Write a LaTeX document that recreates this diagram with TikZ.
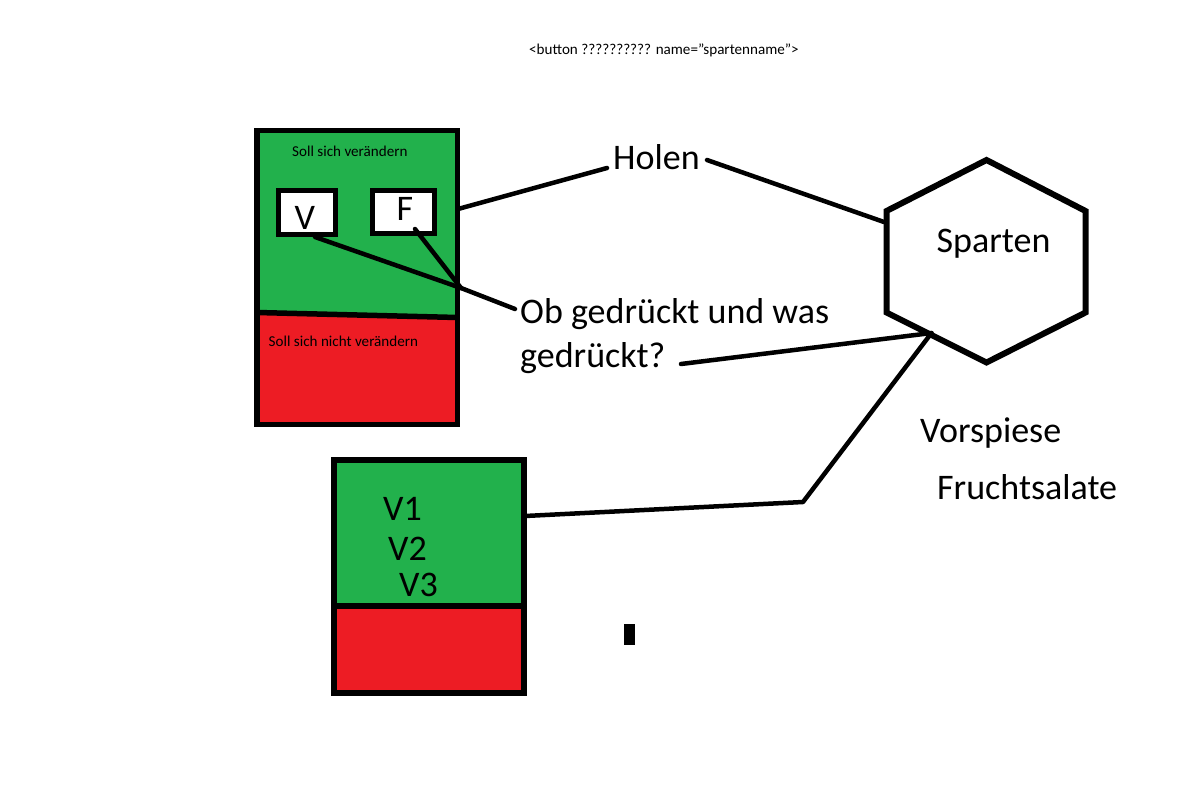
\documentclass[tikz,border=0pt]{standalone}
\usepackage{fontspec}
\setmainfont{Carlito}
\definecolor{pgreen}{HTML}{22B14C}
\definecolor{pred}{HTML}{ED1C24}
\begin{document}
\begin{tikzpicture}[x=1pt,y=-1pt,
  big/.style={inner sep=0pt,anchor=base west,font=\fontsize{36}{42}\selectfont},
  small/.style={inner sep=0pt,anchor=base west,font=\fontsize{15.1}{18}\selectfont},
  frame/.style={draw=black,line width=5.5pt},
  conn/.style={draw=black,line width=4.5pt,line cap=round,line join=round},
  whitebox/.style={draw=black,fill=white,line width=5pt}]
\useasboundingbox (0,0) rectangle (1182,784);
\fill[white] (0,0) rectangle (1182,784);

% top text
\node[small] (btn) at (529,55) {<button ?????????? name=\char"22 spartenname\char"22>};

% box 1
\fill[pgreen] (257,130.5) -- (457.5,130.5) -- (457.5,317.5) -- (257,312.5) -- cycle;
\fill[pred] (257,312.5) -- (457.5,317.5) -- (457.5,424.5) -- (257,424.5) -- cycle;
\draw[frame] (257,312.5) -- (457.5,317.5);
\draw[frame] (257,130.5) rectangle (457.5,424.5);
\node[small] (soll) at (292,156) {Soll sich verändern};
\node[small] (sollnicht) at (268.5,346) {Soll sich nicht verändern};
\draw[whitebox] (278,190.5) rectangle (335,234.5);
\draw[whitebox] (372.5,190.5) rectangle (434.5,233.5);
\node[big] (V) at (294.5,229) {V};
\node[big] (F) at (396.5,220) {F};

% box 2
\fill[pgreen] (334,460) rectangle (524,606);
\fill[pred] (334,606) rectangle (524,693);
\draw[frame] (334,606) -- (524,606);
\draw[frame] (334,460) rectangle (524,693);
\node[big] (V1) at (383,520) {V1};
\node[big] (V2) at (388,560) {V2};
\node[big] (V3) at (399,596) {V3};

% hexagon
\coordinate (hT) at (986.5,160);
\coordinate (hUR) at (1085.5,211);
\coordinate (hLR) at (1085.5,312.5);
\coordinate (hB) at (986.5,362.5);
\coordinate (hLL) at (886.5,312.5);
\coordinate (hUL) at (886.5,211);
\draw[line width=6pt,line join=miter] (hT) -- (hUR) -- (hLR) -- (hB) -- (hLL) -- (hUL) -- cycle;
\node[big] (sparten) at (936.5,252) {Sparten};

% labels
\node[big] (holen) at (613,169) {Holen};
\node[big] (ob) at (520,323) {Ob gedrückt und was};
\node[big] (ged) at (520,367) {gedrückt?};
\node[big] (vor) at (920,442) {Vorspiese};
\node[big] (frucht) at (937,499) {Fruchtsalate};

% small black mark
\fill[black] (624,624) rectangle (634.5,645);

% connector points
\coordinate (b1r) at (458,209);
\coordinate (holenL) at (607,168);
\coordinate (holenR) at (707,160);
\coordinate (hexL) at (884,222);
\coordinate (vB) at (315,237);
\coordinate (fB) at (415,229);
\coordinate (meet) at (461,288);
\coordinate (obL) at (515,309);
\coordinate (gedR) at (681,364);
\coordinate (hexP) at (931.5,333);
\coordinate (bend) at (803,502);
\coordinate (b2r) at (525,516);

\draw[conn] (b1r) -- (holenL);
\draw[conn] (holenR) -- (hexL);
\draw[conn] (vB) -- (meet);
\draw[conn] (fB) -- (meet);
\draw[conn] (meet) -- (obL);
\draw[conn] (gedR) -- (hexP);
\draw[conn] (hexP) -- (bend) -- (b2r);
\end{tikzpicture}
\end{document}
